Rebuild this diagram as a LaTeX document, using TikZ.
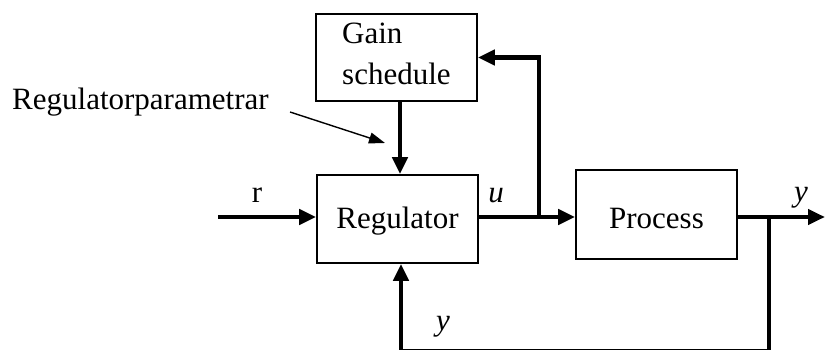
\documentclass[tikz,border=0pt]{standalone}
\usepackage{fontspec}
\setmainfont{Liberation Serif}
\usetikzlibrary{arrows.meta}
\begin{document}
\begin{tikzpicture}[x=1pt,y=-1pt,
  every node/.style={font=\fontsize{31}{41}\selectfont},
  blockbox/.style={draw, line width=1.6pt, inner sep=0pt, minimum width=161pt},
  sig/.style={line width=4.5pt, -{Triangle[length=17pt,width=15pt]}},
  sigline/.style={line width=4.5pt},
  thinarrow/.style={line width=1.4pt, -{Triangle[length=16pt,width=11pt]}},
  lbl/.style={anchor=base, inner sep=0pt}]
\useasboundingbox (0,0) rectangle (825,350);
% blocks
\node[blockbox, minimum height=87pt] (gain) at (396.5,57.5) {};
\node[lbl, anchor=base west] (gaint1) at (342,44) {Gain};
\node[lbl, anchor=base west] (gaint2) at (342,85) {schedule};
\node[blockbox, minimum height=88pt, text height=24pt, text depth=6pt] (reg) at (397.5,219) {Regulator};
\node[blockbox, minimum height=88.5pt, text height=27pt, text depth=0pt] (pr) at (656.5,214.5) {Process};
% coordinates
\coordinate (in) at (218,217);
\coordinate (j1) at (539,217);
\coordinate (j2) at (769,217);
\coordinate (out) at (825,217);
\coordinate (dx) at (400,0);
\coordinate (fb) at (401,351);
\coordinate (tail) at (290,112);
\coordinate (tip) at (385,143);
% connectors
\draw[sig] (in) -- (in -| reg.west);
\draw[sig] (reg.east |- in) -- (pr.west |- in);
\draw[sig] (pr.east |- in) -- (out);
\draw[sig] (j1) |- (gain.east);
\draw[sig] (gain.south -| dx) -- (reg.north -| dx);
\draw[sigline] (j2) |- (fb);
\draw[sig] (fb) -- (fb |- reg.south);
\draw[thinarrow] (tail) -- (tip);
% labels
\node[lbl, anchor=base west] (param) at (12,110) {Regulatorparametrar};
\node[lbl] (rl) at (257,202) {r};
\node[lbl] (ul) at (496,203) {\textit{u}};
\node[lbl] (yo) at (801,201) {\textit{y}};
\node[lbl] (yb) at (443,330) {\textit{y}};
\end{tikzpicture}
\end{document}
